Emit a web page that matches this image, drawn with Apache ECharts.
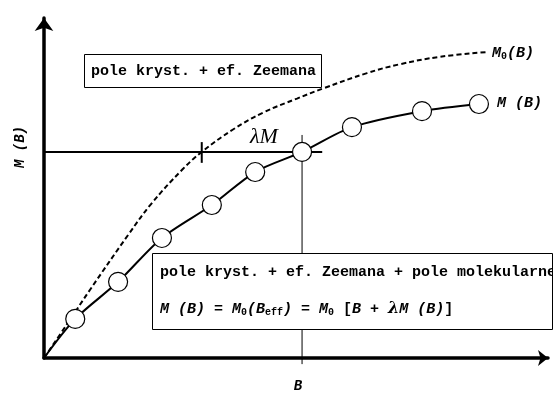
<!DOCTYPE html>
<html>
<head>
<meta charset="utf-8">
<script src="https://cdn.jsdelivr.net/npm/echarts@6/dist/echarts.min.js"></script>
<style>html,body{margin:0;padding:0;background:#fff}#c{width:553px;height:395px}</style>
</head>
<body>
<div id="c"></div>
<script>
// M(B) with molecular field (measured points)
const mB_x = [0, 0.62, 1.47, 2.34, 3.33, 4.19, 5.12, 6.11, 7.50, 8.63];
const mB_y = [0, 1.15, 2.24, 3.53, 4.50, 5.47, 6.06, 6.79, 7.26, 7.47];
// M0(B) without molecular field (dashed)
const m0_x = [0, 0.45, 0.91, 1.67, 2.12, 2.75, 3.13, 3.75, 4.35, 5.02, 5.54, 6.41, 7.06, 7.86, 8.81];
const m0_y = [0, 0.98, 2.00, 3.62, 4.52, 5.55, 6.06, 6.72, 7.22, 7.63, 7.93, 8.38, 8.64, 8.86, 9.00];
// construction: field B, value M(B), shifted field B - lambda*M
const bField = 5.12;
const mAtB = 6.06;
const bShift = 3.13;
const hLineX = [-0.12, 5.52];
const vLineY = [-0.18, 6.56];
const tickY = [5.74, 6.35];

const box1Text = 'pole kryst. + ef. Zeemana';
const box2Text = 'pole kryst. + ef. Zeemana + pole molekularne';

const chart = echarts.init(document.getElementById('c'), null, {renderer: 'canvas'});
const mono = "'Liberation Mono', 'Courier New', monospace";
const rich = {
  i: {fontFamily: mono, fontWeight: 'bold', fontStyle: 'italic', fontSize: 15, color: '#000'},
  n: {fontFamily: mono, fontWeight: 'bold', fontSize: 15, color: '#000'},
  s: {fontFamily: mono, fontWeight: 'bold', fontSize: 10, color: '#000', verticalAlign: 'bottom', padding: [6, 0, 0, 0]},
  g: {fontFamily: "'DejaVu Serif', serif", fontWeight: 'bold', fontStyle: 'italic', fontSize: 16, color: '#000'}
};
const axisBase = {
  type: 'value', min: 0, max: 10,
  axisTick: {show: false}, axisLabel: {show: false}, splitLine: {show: false}
};
chart.setOption({
  animation: false,
  grid: {left: 44, top: 18, width: 504, height: 340},
  xAxis: Object.assign({}, axisBase, {
    axisLine: {show: true, onZero: false, lineStyle: {color: '#000', width: 3.5}, symbol: ['none', 'arrow'], symbolSize: [12, 10]}
  }),
  yAxis: Object.assign({}, axisBase, {
    axisLine: {show: true, onZero: false, lineStyle: {color: '#000', width: 3.5}, symbol: ['none', 'arrow'], symbolSize: [14, 13]}
  }),
  series: [
    {
      type: 'line', name: 'M0(B)', smooth: 0.4, symbol: 'none', clip: false, z: 3,
      lineStyle: {color: '#000', width: 2, type: [5, 3]},
      data: m0_x.map((x, i) => [x, m0_y[i]])
    },
    {
      type: 'line', name: 'hline', symbol: 'none', clip: false, z: 2,
      lineStyle: {color: '#000', width: 2},
      data: hLineX.map(x => [x, mAtB])
    },
    {
      type: 'line', name: 'vline', symbol: 'none', clip: false, z: 2,
      lineStyle: {color: '#000', width: 1},
      data: vLineY.map(y => [bField, y])
    },
    {
      type: 'line', name: 'tick', symbol: 'none', clip: false, z: 2,
      lineStyle: {color: '#000', width: 2},
      data: tickY.map(y => [bShift, y])
    },
    {
      type: 'line', name: 'M(B)', smooth: 0.3, clip: false, z: 5,
      symbol: 'circle', symbolSize: 19, showAllSymbol: true,
      lineStyle: {color: '#000', width: 2},
      itemStyle: {color: '#fff', borderColor: '#000', borderWidth: 1.2},
      data: mB_x.map((x, i) => i === 0 ? {value: [x, mB_y[i]], symbol: 'none'} : [x, mB_y[i]])
    }
  ],
  graphic: [
    {type: 'rect', z: 100, shape: {x: 84.5, y: 54.5, width: 237, height: 33}, style: {fill: '#fff', stroke: '#000', lineWidth: 1}},
    {type: 'text', z: 101, x: 91, y: 71, style: {text: box1Text, font: "bold 15px " + mono, fill: '#000', verticalAlign: 'middle'}},
    {type: 'rect', z: 100, shape: {x: 152.5, y: 253.5, width: 400, height: 76}, style: {fill: '#fff', stroke: '#000', lineWidth: 1}},
    {type: 'text', z: 101, x: 160, y: 272, style: {text: box2Text, font: "bold 15px " + mono, fill: '#000', verticalAlign: 'middle'}},
    {type: 'text', z: 101, x: 160, y: 309, style: {
      text: '{i|M (B)}{n| = }{i|M}{s|0}{i|(B}{s|eff}{i|)}{n| = }{i|M}{s|0}{n| [}{i|B}{n| + }{g|λ}{i|M (B)}{n|]}',
      rich: rich, verticalAlign: 'middle'}},
    {type: 'text', z: 101, x: 492, y: 53, style: {text: '{i|M}{s|0}{i|(B)}', rich: rich, verticalAlign: 'middle'}},
    {type: 'text', z: 101, x: 497, y: 103, style: {text: '{i|M (B)}', rich: rich, verticalAlign: 'middle'}},
    {type: 'text', z: 101, x: 20, y: 147, rotation: Math.PI / 2, style: {text: 'M (B)', font: "italic bold 14px " + mono, fill: '#000', align: 'center', verticalAlign: 'middle'}},
    {type: 'text', z: 101, x: 298, y: 386, style: {text: 'B', font: "italic bold 14px " + mono, fill: '#000', align: 'center', verticalAlign: 'middle'}},
    {type: 'text', z: 101, x: 264, y: 137, style: {text: 'λM', font: "italic 22px 'Liberation Serif', serif", fill: '#000', align: 'center', verticalAlign: 'middle'}}
  ]
});
</script>
</body>
</html>
